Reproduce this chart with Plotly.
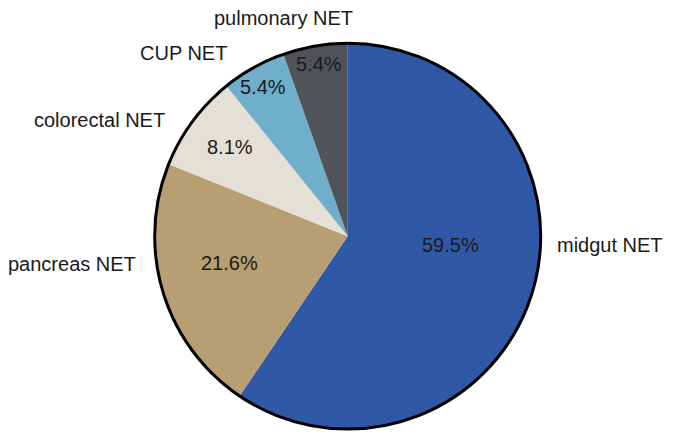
import plotly.graph_objects as go

# NET subtypes, patient counts (37 total)
categories = ["midgut NET", "pancreas NET", "colorectal NET", "CUP NET", "pulmonary NET"]
counts = [22, 8, 3, 2, 2]
colors = ["#2F58A7", "#B89F73", "#E4E0D6", "#70AFCB", "#505358"]

# label positions (paper coords) as placed in the original figure
label_pos = [(0.890, 0.461), (0.095, 0.418), (0.136, 0.745), (0.260, 0.898), (0.408, 0.978)]
pct_pos = [(0.654, 0.461), (0.327, 0.420), (0.328, 0.684), (0.377, 0.820), (0.460, 0.872)]

total = sum(counts)
pct_text = [f"{c / total * 100:.1f}%" for c in counts]

dom = dict(x=[0.217, 0.788], y=[0.043, 0.920])

fig = go.Figure()

# coloured slices, no separators
fig.add_trace(go.Pie(
    labels=categories,
    values=counts,
    sort=False,
    direction="clockwise",
    rotation=0,
    marker=dict(colors=colors, line=dict(width=0)),
    textinfo="none",
    domain=dom,
    showlegend=False,
))

# outer black rim only
fig.add_trace(go.Pie(
    labels=["all"],
    values=[total],
    marker=dict(colors=["rgba(0,0,0,0)"], line=dict(color="black", width=3)),
    textinfo="none",
    hoverinfo="skip",
    domain=dom,
    showlegend=False,
))

font = dict(family="Liberation Sans, Arial", size=20, color="#1a1a1a")
for name, (x, y) in zip(categories, label_pos):
    fig.add_annotation(x=x, y=y, xref="paper", yref="paper", text=name,
                       xanchor="center", yanchor="middle",
                       showarrow=False, font=font)
for t, (x, y) in zip(pct_text, pct_pos):
    fig.add_annotation(x=x, y=y, xref="paper", yref="paper", text=t,
                       xanchor="center", yanchor="middle",
                       showarrow=False, font=font)

fig.update_layout(
    width=676,
    height=440,
    margin=dict(l=0, r=0, t=0, b=0),
    paper_bgcolor="white",
    plot_bgcolor="white",
)

fig.write_html("out.html")
